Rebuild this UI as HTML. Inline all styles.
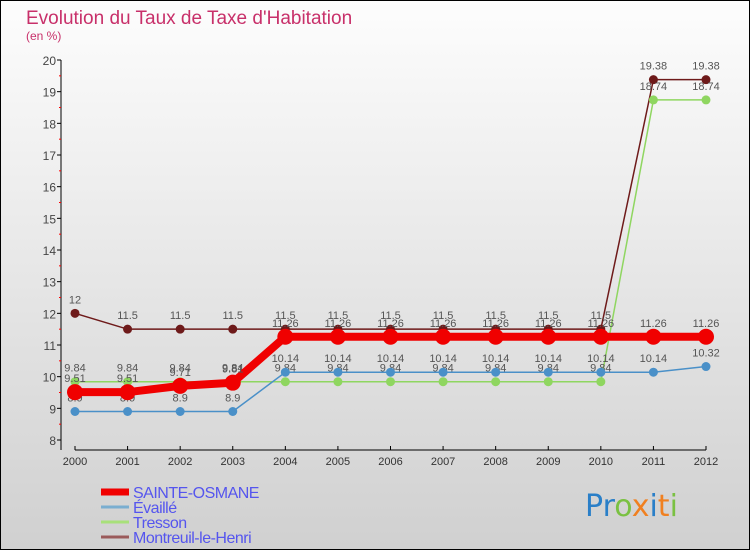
<!DOCTYPE html>
<html><head><meta charset="utf-8"><style>
body{margin:0}
#c{width:750px;height:550px;position:relative;overflow:hidden;font-family:"Liberation Sans",sans-serif}
</style></head><body>
<div id="c">
<svg id="s" width="750" height="550" xmlns="http://www.w3.org/2000/svg">
<defs><linearGradient id="bg" x1="0" y1="0" x2="0" y2="1"><stop offset="0" stop-color="#fdfdfd"/><stop offset="1" stop-color="#d0d0d0"/></linearGradient></defs>
<rect x="0.5" y="0.5" width="749" height="549" fill="url(#bg)" stroke="#000"/>
<text x="26" y="24" font-size="19" fill="#c8306a">Evolution du Taux de Taxe d'Habitation</text>
<text x="26" y="40" font-size="12" fill="#c8306a">(en %)</text>
<g id="axes"></g><g id="series"></g><g id="legend"></g>
<text x="585" y="516" font-size="30" font-family="DejaVu Sans,sans-serif"><tspan fill="#2a7fc8">Pr</tspan><tspan fill="#7ac142">o</tspan><tspan fill="#f08020">x</tspan><tspan fill="#2a7fc8">i</tspan><tspan fill="#f08020">t</tspan><tspan fill="#7ac142">i</tspan></text>
</svg>
</div>
<script>
const years=[2000,2001,2002,2003,2004,2005,2006,2007,2008,2009,2010,2011,2012];
const yTicks=[8,9,10,11,12,13,14,15,16,17,18,19,20];
const sainteOsmane=[9.51,9.51,9.71,9.81,11.26,11.26,11.26,11.26,11.26,11.26,11.26,11.26,11.26];
const evaille=[8.9,8.9,8.9,8.9,10.14,10.14,10.14,10.14,10.14,10.14,10.14,10.14,10.32];
const tresson=[9.84,9.84,9.84,9.84,9.84,9.84,9.84,9.84,9.84,9.84,9.84,18.74,18.74];
const montreuil=[12,11.5,11.5,11.5,11.5,11.5,11.5,11.5,11.5,11.5,11.5,19.38,19.38];
const seriesNames=["SAINTE-OSMANE","Évaillé","Tresson","Montreuil-le-Henri"];
const NS="http://www.w3.org/2000/svg";
const X=y=>75+(y-2000)*(706-75)/12;
const Y=v=>440-(v-8)*(380/12);
function mk(t,a,p){const e=document.createElementNS(NS,t);for(const k in a)e.setAttribute(k,a[k]);p.appendChild(e);return e;}
const ax=document.getElementById('axes');
let l=mk('line',{x1:61,y1:60,x2:61,y2:450,stroke:'#000'},ax);


l=mk('line',{x1:75,y1:450,x2:706,y2:450,stroke:'#000'},ax);


yTicks.forEach(v=>{
 mk('line',{x1:57,y1:Y(v),x2:61,y2:Y(v),stroke:'#000'},ax);
 if(v<20)mk('line',{x1:59,y1:Y(v+0.5),x2:61,y2:Y(v+0.5),stroke:'#f00'},ax);
 const t=mk('text',{x:56,y:Y(v)+5,'font-size':12,fill:'#444','text-anchor':'end'},ax);t.textContent=v;
 
 
});
years.forEach(y=>{
 mk('line',{x1:X(y),y1:446,x2:X(y),y2:450,stroke:'#000'},ax);
 const t=mk('text',{x:X(y),y:465,'font-size':11,fill:'#333','text-anchor':'middle'},ax);t.textContent=y;
 
 
});
const sg=document.getElementById('series');
function draw(vals,col,w,r,name,lblDy){
 const g=mk('g',{},sg);
 
 
 mk('polyline',{points:vals.map((v,i)=>X(years[i])+','+Y(v)).join(' '),fill:'none',stroke:col,'stroke-width':w},g);
 vals.forEach((v,i)=>{
  const c=mk('circle',{cx:X(years[i]),cy:Y(v),r:r,fill:col},g);
  
  
  const t=mk('text',{x:X(years[i]),y:Y(v)+lblDy,'font-size':11,fill:'#555','text-anchor':'middle'},g);t.textContent=v;
 });
}
draw(montreuil,'#6e1a1a',1.5,4.5,'montreuil-series',-10);
draw(tresson,'#8fd660',1.5,4.5,'tresson-series',-10);
draw(evaille,'#4a90c8',1.5,4.5,'evaille-series',-10);
draw(sainteOsmane,'#f00000',8,8,'sainte-osmane-series',-10);
const lg=document.getElementById('legend');
const lc=['#f00000','#7aaed0','#a8e07a','#9a5a5a'],lw=[7,3,3,3];
seriesNames.forEach((n,i)=>{
 const y=492+i*15;
 const g=mk('g',{},lg);
 
 
 mk('line',{x1:101,y1:y,x2:129,y2:y,stroke:lc[i],'stroke-width':lw[i]},g);
 const t=mk('text',{x:133,y:y+6,'font-size':16,fill:'#5555ee','letter-spacing':'-0.5'},g);t.textContent=n;
});
</script>
</body></html>
